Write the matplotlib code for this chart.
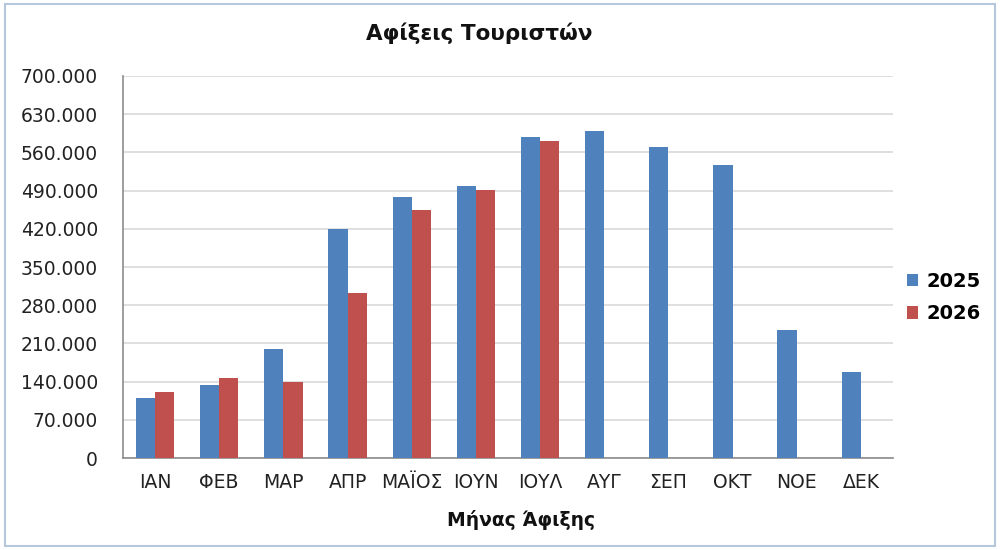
import matplotlib
matplotlib.use('Agg')
import matplotlib.pyplot as plt
from matplotlib.patches import Rectangle
from matplotlib.ticker import FuncFormatter
import numpy as np

# Data
months = ['ΙΑΝ', 'ΦΕΒ', 'ΜΑΡ', 'ΑΠΡ', 'ΜΑΪΟΣ', 'ΙΟΥΝ', 'ΙΟΥΛ', 'ΑΥΓ', 'ΣΕΠ', 'ΟΚΤ', 'ΝΟΕ', 'ΔΕΚ']
arrivals_2025 = [111000, 134000, 200000, 419000, 478000, 498000, 588000, 600000, 570000, 537000, 234000, 157000]
arrivals_2026 = [121000, 147000, 139000, 303000, 455000, 491000, 581000, np.nan, np.nan, np.nan, np.nan, np.nan]
series_labels = ['2025', '2026']
yticks = list(range(0, 700001, 70000))

BLUE = '#4F81BD'
RED = '#C0504D'

plt.rcParams['font.family'] = ['DejaVu Sans']

fig = plt.figure(figsize=(10, 5.5), dpi=100)
ax = fig.add_axes([0.123, 0.167, 0.770, 0.695])

x = np.arange(len(months))
w = 0.30
ax.bar(x - w / 2, arrivals_2025, w, color=BLUE, label=series_labels[0], zorder=3)
ax.bar(x + w / 2, arrivals_2026, w, color=RED, label=series_labels[1], zorder=3)

ax.set_xlim(-0.5, len(months) - 0.5)
ax.set_ylim(0, 700000)
ax.set_yticks(yticks)
ax.yaxis.set_major_formatter(FuncFormatter(lambda v, p: '{:,.0f}'.format(v).replace(',', '.')))
ax.set_xticks(x)
ax.set_xticklabels(months)
ax.tick_params(axis='both', length=0, labelsize=13.5, colors='#222222')
ax.tick_params(axis='y', pad=18)
ax.tick_params(axis='x', pad=11)
ax.grid(axis='y', color='#D9D9D9', linewidth=1.2, zorder=0)

for side in ['top', 'right']:
    ax.spines[side].set_visible(False)
for side in ['left', 'bottom']:
    ax.spines[side].set_color('#8C8C8C')
    ax.spines[side].set_linewidth(1.2)

fig.text(0.479, 0.94, 'Αφίξεις Τουριστών', ha='center', va='center',
         fontsize=15.5, fontweight='bold', color='#111111')
fig.text(0.521, 0.055, 'Μήνας Άφιξης', ha='center', va='center',
         fontsize=13.5, fontweight='bold', color='#111111')

ax.legend(loc='center left', bbox_to_anchor=(0.995, 0.42), frameon=False,
          prop={'weight': 'bold', 'size': 14}, handlelength=0.6, handleheight=0.6,
          handletextpad=0.4, labelspacing=0.7)

fig.patches.append(Rectangle((0.005, 0.008), 0.99, 0.985, transform=fig.transFigure,
                             fill=False, edgecolor='#B4C7DC', linewidth=1.5))

fig.savefig('out.png', dpi=100)
